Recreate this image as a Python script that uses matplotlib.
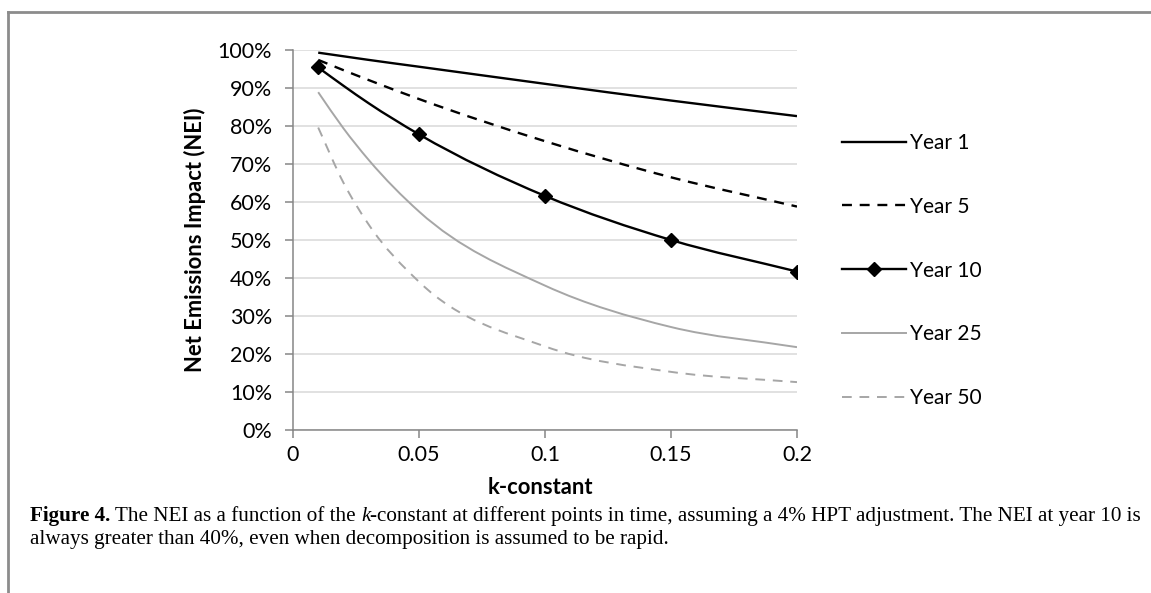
import numpy as np
import matplotlib
matplotlib.use('Agg')
import matplotlib.pyplot as plt
from matplotlib.path import Path
from matplotlib.patches import PathPatch
from matplotlib.lines import Line2D

# values (NEI as fraction) at each k-constant
k = [0.01, 0.02, 0.03, 0.05, 0.1, 0.15, 0.2]
year1 = [0.993, 0.9835, 0.974, 0.956, 0.911, 0.867, 0.826]
year5 = [0.974, 0.947, 0.921, 0.871, 0.760, 0.665, 0.588]
year10 = [0.954, 0.906, 0.860, 0.778, 0.616, 0.500, 0.417]
year25 = [0.889, 0.794, 0.711, 0.575, 0.380, 0.271, 0.218]
year50 = [0.796, 0.651, 0.541, 0.390, 0.220, 0.153, 0.126]
year10_marks = [0, 3, 4, 5, 6]   # points that carry a marker in the original

labels = ['Year 1', 'Year 5', 'Year 10', 'Year 25', 'Year 50']
xticks = [0, 0.05, 0.1, 0.15, 0.2]
yticks = np.arange(0, 1.01, 0.1)

BLACK = '#000000'
GREY = '#a6a6a6'
styles = [
    dict(color=BLACK, lw=1.7, ls='-'),
    dict(color=BLACK, lw=1.7, ls=(0, (4.2, 3.3))),
    dict(color=BLACK, lw=1.7, ls='-'),
    dict(color=GREY, lw=1.4, ls='-'),
    dict(color=GREY, lw=1.4, ls=(0, (5, 4))),
]


def smooth_path(x, y):
    # smoothed line like the spreadsheet one: cubic hermite segments as bezier curves
    x = np.asarray(x, float)
    y = np.asarray(y, float)
    h = np.diff(x)
    d = np.diff(y) / h
    m = np.empty_like(y)
    m[0], m[-1] = d[0], d[-1]
    for i in range(1, len(y) - 1):
        m[i] = (h[i - 1] * d[i] + h[i] * d[i - 1]) / (h[i - 1] + h[i])
    verts = [(x[0], y[0])]
    codes = [Path.MOVETO]
    for i in range(len(x) - 1):
        verts += [(x[i] + h[i] / 3, y[i] + m[i] * h[i] / 3),
                  (x[i + 1] - h[i] / 3, y[i + 1] - m[i + 1] * h[i] / 3),
                  (x[i + 1], y[i + 1])]
        codes += [Path.CURVE4] * 3
    return Path(verts, codes)


plt.rcParams['font.family'] = ['Lato', 'DejaVu Sans']

fig = plt.figure(figsize=(11.51, 5.93), dpi=100)
ax = fig.add_axes([293 / 1151, 1 - 430 / 593, 504 / 1151, 380 / 593])

series = [year1, year5, year10, year25, year50]
handles = []
for vals, st, lab in zip(series, styles, labels):
    ax.add_patch(PathPatch(smooth_path(k, vals), fill=False, edgecolor=st['color'],
                           lw=st['lw'], linestyle=st['ls'], capstyle='butt', zorder=3))
    handles.append(Line2D([], [], color=st['color'], lw=st['lw'], ls=st['ls']))

ax.plot(np.array(k)[year10_marks], np.array(year10)[year10_marks], ls='none',
        marker='D', ms=7, color=BLACK, zorder=4)
handles[2] = Line2D([], [], color=BLACK, lw=1.7, marker='D', ms=7)

ax.set_xlim(0, 0.2)
ax.set_ylim(0, 1)
ax.set_xticks(xticks)
ax.set_xticklabels(['0', '0.05', '0.1', '0.15', '0.2'])
ax.set_yticks(yticks)
ax.set_yticklabels(['%d%%' % round(v * 100) for v in yticks])
ax.grid(axis='y', color='#d9d9d9', lw=1.1)
ax.set_axisbelow(True)
for s in ['top', 'right']:
    ax.spines[s].set_visible(False)
for s in ['left', 'bottom']:
    ax.spines[s].set_color('#868686')
    ax.spines[s].set_linewidth(1.1)
ax.tick_params(axis='both', colors='#868686', labelcolor='black', labelsize=15.5,
               length=6, width=1.1)
ax.tick_params(axis='y', pad=9)
ax.tick_params(axis='x', pad=5)

ax.set_ylabel('Net Emissions Impact (NEI)', fontsize=15.8, fontweight='bold')
ax.yaxis.set_label_coords(-0.172, 0.5)
ax.set_xlabel('k-constant', fontsize=15.8, fontweight='bold')
ax.xaxis.set_label_coords(0.49, -0.125)

leg = fig.legend(handles, labels, loc='upper left', bbox_to_anchor=(842 / 1151, 1 - 133 / 593),
                 frameon=False, fontsize=15, handlelength=3.05, handletextpad=0.2,
                 labelspacing=2.1, borderpad=0, borderaxespad=0)

# page frame (left and top rule)
fig.add_artist(Line2D([8 / 1151, 8 / 1151], [0, 1 - 12 / 593], color='#8c8c8c', lw=2))
fig.add_artist(Line2D([8 / 1151, 1], [1 - 12 / 593, 1 - 12 / 593], color='#8c8c8c', lw=2))

# caption with mixed bold / italic runs
cap_font = ['Liberation Serif', 'DejaVu Serif']
line1 = [('Figure 4.', 'bold', 'normal'),
         (' The NEI as a function of the ', 'normal', 'normal'),
         ('k', 'normal', 'italic'),
         ('-constant at different points in time, assuming a 4% HPT adjustment. '
          'The NEI at year 10 is', 'normal', 'normal')]
line2 = [('always greater than 40%, even when decomposition is assumed to be rapid.',
          'normal', 'normal')]

renderer = fig.canvas.get_renderer()


def draw_runs(runs, x0, y0, size):
    x = x0
    for txt, wt, st in runs:
        t = fig.text(x, y0, txt, fontsize=size, fontweight=wt, fontstyle=st,
                     family=cap_font, va='baseline', ha='left')
        bb = t.get_window_extent(renderer)
        x = bb.x1 / fig.bbox.width
    return x


# fit first caption line to the width seen in the original
n_before = len(fig.texts)
xend = draw_runs(line1, 30 / 1151, 0.5, 12)
for t in list(fig.texts[n_before:]):
    t.remove()
size = 12 * (1106 / 1151) / (xend - 30 / 1151)
draw_runs(line1, 30 / 1151, 1 - 521 / 593, size)
draw_runs(line2, 30 / 1151, 1 - 544 / 593, size)

fig.savefig('out.png', dpi=100)
